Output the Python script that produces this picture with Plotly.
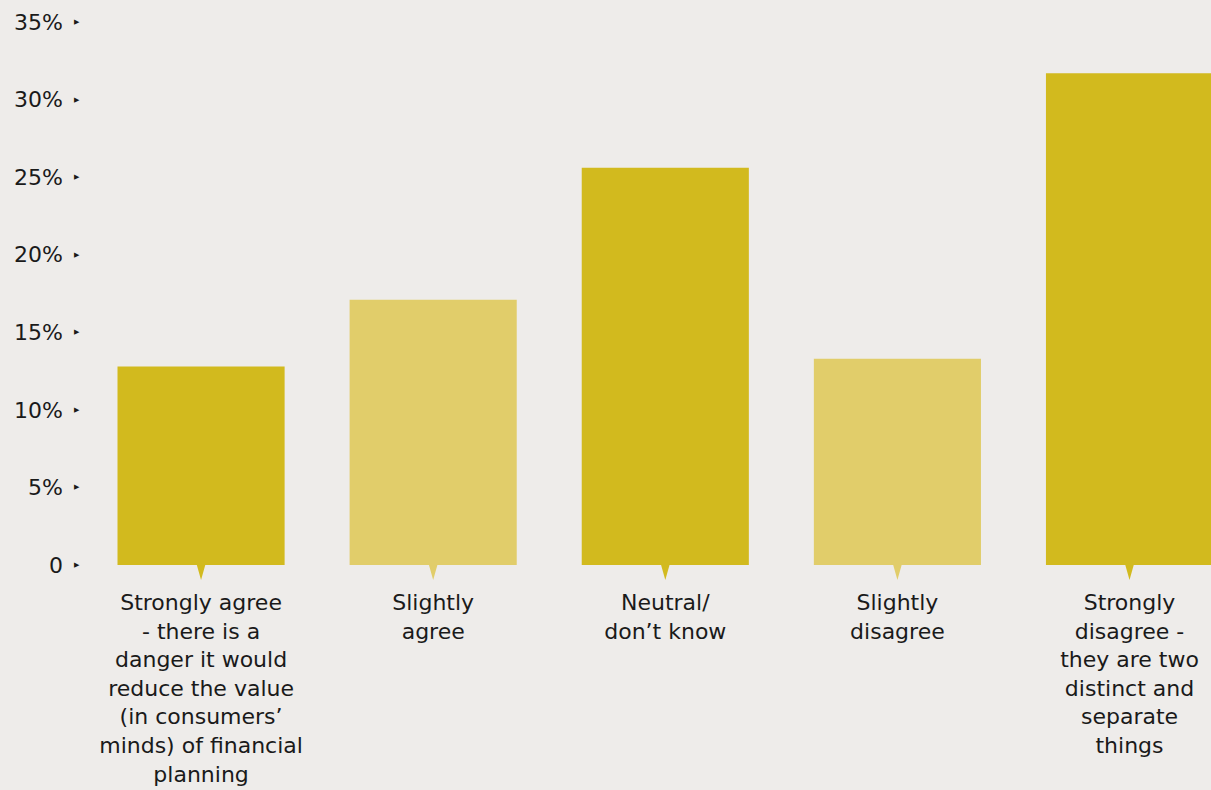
import plotly.graph_objects as go

# Survey answers and share of respondents (%)
categories = [
    "Strongly agree<br>- there is a<br>danger it would<br>reduce the value<br>(in consumers’<br>minds) of financial<br>planning",
    "Slightly<br>agree",
    "Neutral/<br>don’t know",
    "Slightly<br>disagree",
    "Strongly<br>disagree -<br>they are two<br>distinct and<br>separate<br>things",
]
shares = [12.8, 17.1, 25.6, 13.3, 31.7]
bar_colors = ["#D2BA1E", "#E1CD6A", "#D2BA1E", "#E1CD6A", "#D2BA1E"]

y_ticks = [0, 5, 10, 15, 20, 25, 30, 35]
y_tick_labels = ["0", "5%", "10%", "15%", "20%", "25%", "30%", "35%"]

BG = "#EEECEA"
TEXT = "#1A1A1A"
FONT = "DejaVu Sans"

fig = go.Figure(
    go.Bar(
        x=list(range(len(categories))),
        y=shares,
        marker=dict(color=bar_colors, line=dict(width=0)),
        width=0.72,
        hoverinfo="skip",
    )
)

# Small pointer under each bar (paper-referenced in y so it is not clipped)
for i in range(len(categories)):
    fig.add_shape(
        type="path",
        xref="x", yref="paper",
        xsizemode="pixel", ysizemode="pixel",
        xanchor=i, yanchor=0,
        path="M-4.5,1 L4.5,1 L0,-15 Z",
        fillcolor=bar_colors[i],
        line=dict(width=0),
        layer="above",
    )

# Arrow markers beside the y tick labels
for v in y_ticks:
    fig.add_annotation(
        xref="paper", yref="y",
        x=-0.0075, y=v,
        text="▶",
        showarrow=False,
        font=dict(size=7, color=TEXT),
        xanchor="center", yanchor="middle",
    )

fig.update_layout(
    width=1211,
    height=790,
    paper_bgcolor=BG,
    plot_bgcolor=BG,
    margin=dict(l=85, r=0, t=22, b=225),
    showlegend=False,
    font=dict(family=FONT, size=22, color=TEXT),
)

fig.update_xaxes(
    range=[-0.5, 4.351],
    tickmode="array",
    tickvals=list(range(len(categories))),
    ticktext=categories,
    showgrid=False,
    zeroline=False,
    showline=False,
    ticks="",
    ticklabelstandoff=22,
    tickfont=dict(family=FONT, size=22, color=TEXT),
    fixedrange=True,
)

fig.update_yaxes(
    range=[0, 35],
    tickmode="array",
    tickvals=y_ticks,
    ticktext=y_tick_labels,
    showgrid=False,
    zeroline=False,
    showline=False,
    ticks="",
    ticklabelstandoff=21,
    tickfont=dict(family=FONT, size=22, color=TEXT),
    fixedrange=True,
)

fig.write_html("out.html")
